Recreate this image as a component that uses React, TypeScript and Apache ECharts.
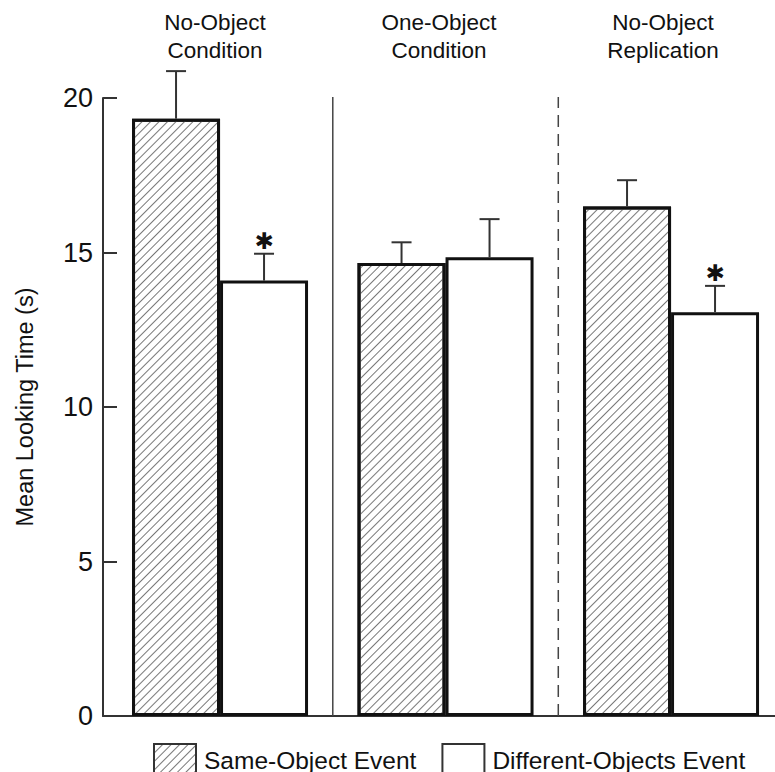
import React, { useEffect, useRef } from 'react';
import * as echarts from 'echarts';

const groupLabels = ['No-Object\nCondition', 'One-Object\nCondition', 'No-Object\nReplication'];
const groupPositions = [0, 1, 2];
const seriesNames = ['Same-Object Event', 'Different-Objects Event'];
const sameObject = [19.33, 14.66, 16.49];
const sameObjectErr = [1.54, 0.67, 0.85];
const differentObjects = [14.09, 14.85, 13.07];
const differentObjectsErr = [0.87, 1.23, 0.85];
const significantSame = [false, false, false];
const significantDiff = [true, false, true];
const separatorPositions = [0.5, 1.5];
const separatorStyles = ['solid', 'dashed'];
const yMin = 0;
const yMax = 20;
const yInterval = 5;

const BAR_W = 88;
const FONT = '"Liberation Sans", Arial, Helvetica, sans-serif';

function errorSeries(values: number[], errs: number[], flags: boolean[], offset: number) {
  return {
    type: 'custom',
    clip: false,
    z: 5,
    silent: true,
    data: values.map((v, i) => [groupPositions[i], v, errs[i], flags[i] ? 1 : 0]),
    renderItem: (params: any, api: any) => {
      const xv = api.value(0);
      const v = api.value(1);
      const e = api.value(2);
      const flag = api.value(3);
      const base = api.coord([xv, v]);
      const top = api.coord([xv, v + e]);
      const x = base[0] + offset;
      const children: any[] = [
        { type: 'line', shape: { x1: x, y1: base[1], x2: x, y2: top[1] }, style: { stroke: '#333', lineWidth: 2 } },
        { type: 'line', shape: { x1: x - 10, y1: top[1], x2: x + 10, y2: top[1] }, style: { stroke: '#333', lineWidth: 2 } },
      ];
      if (flag) {
        children.push({
          type: 'text',
          x,
          y: top[1] - 13,
          style: {
            text: '✱',
            fontSize: 23,
            fontFamily: '"DejaVu Sans", sans-serif',
            fill: '#111',
            align: 'center',
            verticalAlign: 'middle',
          },
        });
      }
      return { type: 'group', children };
    },
  };
}

export default function App() {
  const ref = useRef<HTMLDivElement>(null);
  useEffect(() => {
    if (!ref.current) return;
    const chart = echarts.init(ref.current, null, { renderer: 'svg' });
    const hatch = {
      symbol: 'rect',
      symbolSize: 1,
      dashArrayX: [1, 0],
      dashArrayY: [1, 5],
      rotation: -Math.PI / 4,
      color: '#777',
    };
    chart.setOption({
      animation: false,
      backgroundColor: '#fff',
      textStyle: { fontFamily: FONT },
      grid: { left: 103, right: 0, top: 98, bottom: 56 },
      legend: {
        data: seriesNames,
        icon: 'rect',
        left: 148,
        top: 738,
        itemWidth: 42,
        itemHeight: 32,
        itemGap: 25,
        textStyle: { fontSize: 24.5, color: '#111', fontFamily: FONT, padding: [0, 0, 0, 3] },
        itemStyle: { borderColor: '#333', borderWidth: 2 },
      },
      xAxis: [
        {
          type: 'value',
          min: -0.519,
          max: 2.461,
          position: 'bottom',
          axisLine: { show: true, onZero: false, lineStyle: { color: '#333', width: 2 } },
          axisTick: { show: false },
          axisLabel: { show: false },
          splitLine: { show: false },
        },
        {
          type: 'category',
          data: groupLabels,
          position: 'top',
          axisLine: { show: false },
          axisTick: { show: false },
          axisLabel: { show: true, fontSize: 22.5, color: '#111', lineHeight: 28, margin: 34, fontFamily: FONT },
          splitLine: { show: false },
        },
      ],
      yAxis: {
        type: 'value',
        min: yMin,
        max: yMax,
        interval: yInterval,
        name: 'Mean Looking Time (s)',
        nameLocation: 'middle',
        nameGap: 66,
        nameTextStyle: { fontSize: 23.5, color: '#111', fontFamily: FONT },
        axisLine: { show: true, onZero: false, lineStyle: { color: '#333', width: 2 } },
        axisTick: { show: true, inside: true, length: 14, lineStyle: { color: '#333', width: 2 } },
        axisLabel: { fontSize: 27, color: '#111', margin: 10, fontFamily: FONT },
        splitLine: { show: false },
      },
      series: [
        {
          name: seriesNames[0],
          type: 'bar',
          data: sameObject.map((v, i) => [groupPositions[i], v]),
          barWidth: BAR_W,
          barGap: '0%',
          itemStyle: { color: '#fff', borderColor: '#111', borderWidth: 3, decal: hatch },
        },
        {
          name: seriesNames[1],
          type: 'bar',
          data: differentObjects.map((v, i) => [groupPositions[i], v]),
          barWidth: BAR_W,
          barGap: '0%',
          itemStyle: { color: '#fff', borderColor: '#111', borderWidth: 3 },
        },
        errorSeries(sameObject, sameObjectErr, significantSame, -BAR_W / 2),
        errorSeries(differentObjects, differentObjectsErr, significantDiff, BAR_W / 2),
        {
          type: 'custom',
          clip: false,
          silent: true,
          data: separatorPositions.map((p) => [p]),
          renderItem: (params: any, api: any) => {
            const xv = api.value(0);
            const p0 = api.coord([xv, yMin]);
            const p1 = api.coord([xv, yMax]);
            const dashed = separatorStyles[params.dataIndex] === 'dashed';
            return {
              type: 'line',
              shape: { x1: p0[0], y1: p0[1], x2: p0[0], y2: p1[1] - 1 },
              style: { stroke: '#444', lineWidth: 1.5, lineDash: dashed ? [12, 7] : null },
            };
          },
        },
      ],
    });
    return () => chart.dispose();
  }, []);
  return <div ref={ref} style={{ width: 775, height: 772, position: 'absolute', left: 0, top: 0 }} />;
}
